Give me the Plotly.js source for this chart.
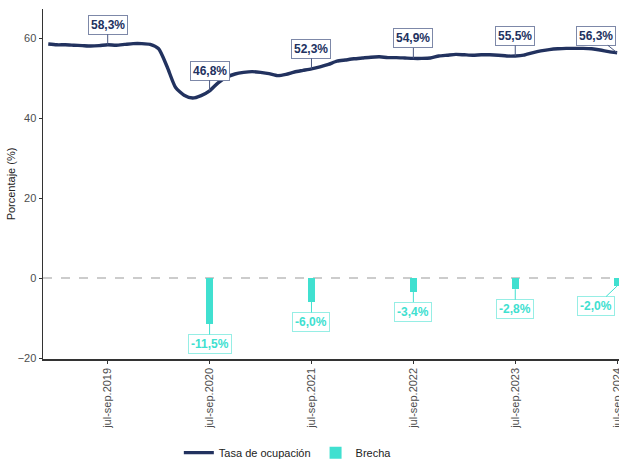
<!DOCTYPE html>
<html>
<head>
<meta charset="utf-8">
<script src="https://cdn.plot.ly/plotly-3.0.1.min.js"></script>
<style>html,body{margin:0;padding:0;background:#fff;}#chart{width:619px;height:460px;}</style>
</head>
<body>
<div id="chart"></div>
<script>
// Rolling quarters (trimestres móviles), labelled by end year
const periods = [
  "dic-feb.2019","ene-mar.2019","feb-abr.2019","mar-may.2019","abr-jun.2019","may-jul.2019","jun-ago.2019","jul-sep.2019","ago-oct.2019","sep-nov.2019","oct-dic.2019",
  "nov-ene.2020","dic-feb.2020","ene-mar.2020","feb-abr.2020","mar-may.2020","abr-jun.2020","may-jul.2020","jun-ago.2020","jul-sep.2020","ago-oct.2020","sep-nov.2020","oct-dic.2020",
  "nov-ene.2021","dic-feb.2021","ene-mar.2021","feb-abr.2021","mar-may.2021","abr-jun.2021","may-jul.2021","jun-ago.2021","jul-sep.2021","ago-oct.2021","sep-nov.2021","oct-dic.2021",
  "nov-ene.2022","dic-feb.2022","ene-mar.2022","feb-abr.2022","mar-may.2022","abr-jun.2022","may-jul.2022","jun-ago.2022","jul-sep.2022","ago-oct.2022","sep-nov.2022","oct-dic.2022",
  "nov-ene.2023","dic-feb.2023","ene-mar.2023","feb-abr.2023","mar-may.2023","abr-jun.2023","may-jul.2023","jun-ago.2023","jul-sep.2023","ago-oct.2023","sep-nov.2023","oct-dic.2023",
  "nov-ene.2024","dic-feb.2024","ene-mar.2024","feb-abr.2024","mar-may.2024","abr-jun.2024","may-jul.2024","jun-ago.2024","jul-sep.2024"
];
const tasaOcupacion = [
  58.5, 58.3, 58.3, 58.2, 58.1, 58.0, 58.1, 58.3, 58.2, 58.4, 58.6,
  58.6, 58.4, 57.3, 52.8, 47.6, 45.7, 45.0, 45.6, 46.8, 48.8, 50.2, 51.0,
  51.4, 51.6, 51.4, 51.1, 50.6, 50.9, 51.5, 51.9, 52.3, 52.8, 53.4, 54.2,
  54.5, 54.8, 55.0, 55.2, 55.3, 55.1, 55.1, 55.0, 54.9, 54.9, 55.0, 55.5,
  55.7, 55.9, 55.8, 55.7, 55.8, 55.8, 55.7, 55.5, 55.5, 55.7, 56.3, 56.8,
  57.1, 57.3, 57.4, 57.4, 57.4, 57.3, 57.0, 56.6, 56.3
];
const labelPeriods = ["jul-sep.2019","jul-sep.2020","jul-sep.2021","jul-sep.2022","jul-sep.2023","jul-sep.2024"];
const labelValues = [58.3, 46.8, 52.3, 54.9, 55.5, 56.3];
const brechaPeriods = ["jul-sep.2020","jul-sep.2021","jul-sep.2022","jul-sep.2023","jul-sep.2024"];
const brechaValues = [-11.5, -6.0, -3.4, -2.8, -2.0];
const tickLabels = ["jul-sep.2019","jul-sep.2020","jul-sep.2021","jul-sep.2022","jul-sep.2023","jul-sep.2024"];

const NAVY = "#22325f";
const TURQ = "#40E0D0";
const fmt = v => v.toFixed(1).replace(".", ",") + "%";

const traces = [
  {type:"scatter", mode:"lines", name:"Tasa de ocupación", x:periods, y:tasaOcupacion,
   line:{color:NAVY, width:3.4, shape:"spline", smoothing:0.6}},
  {type:"bar", name:"Brecha", x:brechaPeriods, y:brechaValues, width:0.8,
   marker:{color:TURQ, line:{width:0}}}
];

const annotations = [];
labelPeriods.forEach((p, i) => {
  const last = i === labelPeriods.length - 1;
  annotations.push({x:p, y:labelValues[i], xref:"x", yref:"y", text:"<b>"+fmt(labelValues[i])+"</b>",
    showarrow:true, arrowhead:0, arrowwidth:1, arrowcolor:"#4a5780", standoff:0,
    ax:last?-21:0, ay:last?-17:-20, font:{family:"Liberation Sans, Arial, sans-serif", size:12, color:NAVY},
    bgcolor:"#ffffff", bordercolor:"#7d88a8", borderwidth:1, borderpad:2});
});
brechaPeriods.forEach((p, i) => {
  const last = i === brechaPeriods.length - 1;
  annotations.push({x:p, y:brechaValues[i], xref:"x", yref:"y", text:"<b>"+fmt(brechaValues[i])+"</b>",
    showarrow:true, arrowhead:0, arrowwidth:1, arrowcolor:TURQ, standoff:0,
    ax:last?-21:0, ay:20, font:{family:"Liberation Sans, Arial, sans-serif", size:12, color:TURQ},
    bgcolor:"#ffffff", bordercolor:"rgba(64,224,208,0.55)", borderwidth:1, borderpad:2});
});

const layout = {
  width:619, height:460,
  margin:{l:43, r:0, t:9, b:101, autoexpand:false},
  paper_bgcolor:"#ffffff", plot_bgcolor:"#ffffff",
  font:{family:"Liberation Sans, Arial, sans-serif", size:11, color:"#4d4d4d"},
  showlegend:true,
  legend:{orientation:"h", xref:"container", x:0.465, xanchor:"center", yref:"container", y:0.016, yanchor:"middle",
          font:{size:11, color:"#222"}, traceorder:"normal"},
  xaxis:{type:"category", categoryorder:"array", categoryarray:periods, automargin:false,
         range:[-0.62, 67.22], tickmode:"array", tickvals:tickLabels, ticktext:tickLabels,
         tickangle:-90, ticks:"outside", ticklen:3, tickcolor:"#333", tickwidth:1,
         showline:true, linecolor:"#333", linewidth:1.5, showgrid:false, zeroline:false,
         tickfont:{size:11, color:"#4d4d4d"}},
  yaxis:{range:[-20.25, 67.25], tickvals:[-20,0,20,40,60], ticks:"outside", ticklen:3, automargin:false,
         tickcolor:"#333", tickwidth:1, showline:true, linecolor:"#333", linewidth:1.5,
         showgrid:false, zeroline:false, tickfont:{size:11, color:"#4d4d4d"},
         title:{text:"Porcentaje (%)", font:{size:11, color:"#222"}, standoff:0}},
  shapes:[{type:"line", xref:"paper", x0:0, x1:1, yref:"y", y0:0, y1:0,
           line:{color:"#999999", width:1, dash:"dash"}, layer:"below"}],
  annotations:annotations,
  bargap:0
};

Plotly.newPlot("chart", traces, layout, {displayModeBar:false, staticPlot:true});
</script>
</body>
</html>
